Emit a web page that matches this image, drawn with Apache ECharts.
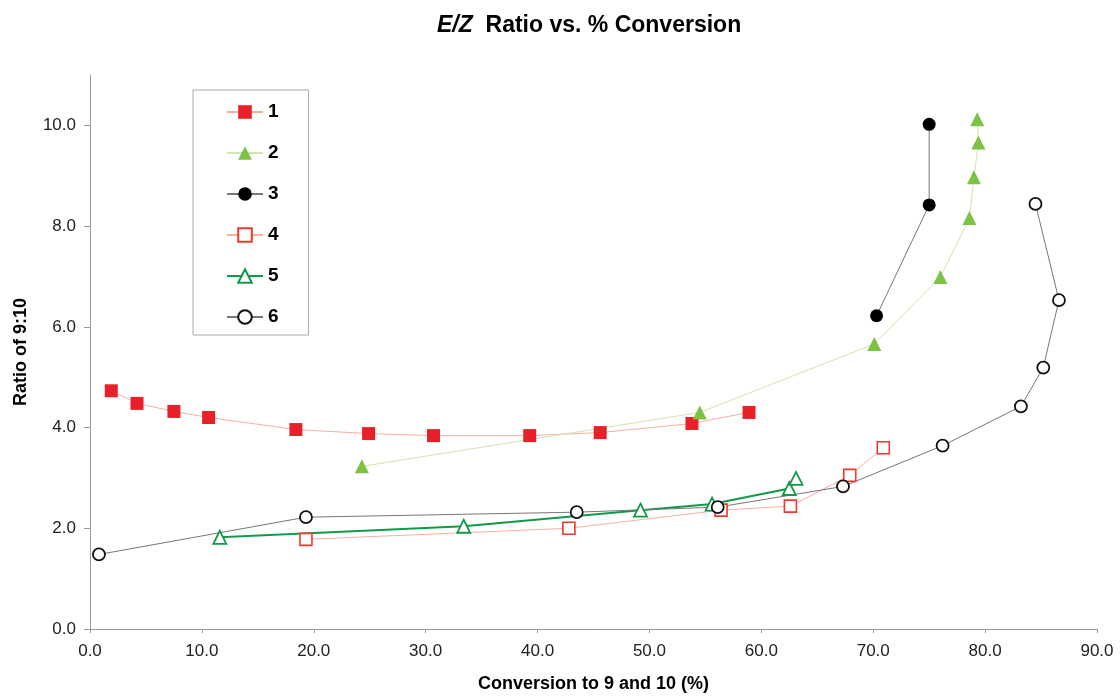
<!DOCTYPE html>
<html>
<head>
<meta charset="utf-8">
<script src="https://cdn.jsdelivr.net/npm/echarts@6/dist/echarts.min.js"></script>
<style>
html,body{margin:0;padding:0;background:#fff;}
#chart{width:1120px;height:698px;}
</style>
</head>
<body>
<div id="chart"></div>
<script>
// ---- data ----
var seriesNames = ['1', '2', '3', '4', '5', '6'];
var xTicks = [0, 10, 20, 30, 40, 50, 60, 70, 80, 90];
var yTicks = [0, 2, 4, 6, 8, 10];

var s1X = [1.9, 4.2, 7.5, 10.6, 18.4, 24.9, 30.7, 39.3, 45.6, 53.8, 58.9];
var s1Y = [4.73, 4.48, 4.32, 4.20, 3.96, 3.88, 3.84, 3.84, 3.90, 4.08, 4.30];

var s2X = [24.3, 54.5, 70.1, 76.0, 78.6, 79.0, 79.4, 79.3];
var s2Y = [3.23, 4.30, 5.66, 6.99, 8.16, 8.97, 9.66, 10.12];

var s3X = [70.3, 75.0, 75.0];
var s3Y = [6.22, 8.42, 10.02];

var s4X = [19.3, 42.8, 56.4, 62.6, 67.9, 70.9];
var s4Y = [1.78, 2.00, 2.36, 2.44, 3.05, 3.60];

var s5X = [11.6, 33.4, 49.2, 55.6, 62.5, 63.1];
var s5Y = [1.82, 2.04, 2.36, 2.48, 2.79, 2.99];

var s6X = [0.8, 19.3, 43.5, 56.1, 67.3, 76.2, 83.2, 85.2, 86.6, 84.5];
var s6Y = [1.48, 2.22, 2.32, 2.42, 2.83, 3.64, 4.42, 5.19, 6.53, 8.44];

function pairs(xs, ys) { return xs.map(function (x, i) { return [x, ys[i]]; }); }

var FONT = '"Liberation Sans", Arial, sans-serif';

function mk(name, xs, ys, symbol, size, fill, stroke, bw, lineColor, lineWidth) {
  return {
    name: name,
    type: 'line',
    data: pairs(xs, ys),
    symbol: symbol,
    symbolSize: size,
    showAllSymbol: true,
    lineStyle: { color: lineColor, width: lineWidth },
    itemStyle: { color: fill, borderColor: stroke, borderWidth: bw },
    emphasis: { disabled: true },
    z: 2
  };
}

var chart = echarts.init(document.getElementById('chart'), null, { renderer: 'canvas' });
chart.setOption({
  animation: false,
  backgroundColor: '#fff',
  title: {
    text: '{i|E/Z}  Ratio vs. % Conversion',
    left: 432,
    top: 9,
    textStyle: {
      fontFamily: FONT, fontSize: 23, fontWeight: 'bold', color: '#000',
      rich: {
        i: { fontFamily: FONT, fontSize: 23, fontWeight: 'bold', fontStyle: 'italic', color: '#000' }
      }
    }
  },
  legend: {
    orient: 'vertical',
    left: 193,
    top: 90,
    data: seriesNames,
    itemWidth: 36,
    itemHeight: 17,
    itemGap: 21,
    padding: [12, 30, 8, 33],
    borderColor: '#aaa',
    borderWidth: 1,
    backgroundColor: '#fff',
    selectedMode: false,
    textStyle: { fontFamily: FONT, fontSize: 19, fontWeight: 'bold', color: '#000', lineHeight: 20 }
  },
  grid: { left: 90, right: 23, top: 75, bottom: 69 },
  xAxis: {
    type: 'value',
    min: 0, max: 90, interval: 10,
    name: 'Conversion to 9 and 10 (%)',
    nameLocation: 'middle',
    nameGap: 46,
    nameTextStyle: { fontFamily: FONT, fontSize: 18, fontWeight: 'bold', color: '#000' },
    axisLine: { show: true, lineStyle: { color: '#999', width: 1 } },
    axisTick: { show: true, length: 4, lineStyle: { color: '#999' }, customValues: xTicks },
    axisLabel: {
      customValues: xTicks,
      margin: 14,
      fontFamily: FONT, fontSize: 17, color: '#222',
      formatter: function (v) { return v.toFixed(1); }
    },
    splitLine: { show: false }
  },
  yAxis: {
    type: 'value',
    min: 0, max: 11, interval: 2,
    name: 'Ratio of 9:10',
    nameLocation: 'middle',
    nameGap: 60,
    nameTextStyle: { fontFamily: FONT, fontSize: 18, fontWeight: 'bold', color: '#000' },
    axisLine: { show: true, lineStyle: { color: '#999', width: 1 } },
    axisTick: { show: true, length: 6, lineStyle: { color: '#999' }, customValues: yTicks },
    axisLabel: {
      customValues: yTicks,
      margin: 14,
      fontFamily: FONT, fontSize: 17, color: '#222',
      formatter: function (v) { return v.toFixed(1); }
    },
    splitLine: { show: false }
  },
  series: [
    mk('1', s1X, s1Y, 'rect', 13, '#e8202a', '#e8202a', 0, '#f6b0a0', 1),
    mk('2', s2X, s2Y, 'triangle', 14, '#7cc243', '#7cc243', 0, '#cfe6b0', 1),
    mk('3', s3X, s3Y, 'circle', 13, '#000', '#000', 0, '#777', 1),
    mk('4', s4X, s4Y, 'rect', 12, '#fff', '#ee3a2f', 1.6, '#f6b0a0', 1),
    mk('5', s5X, s5Y, 'triangle', 13, '#fff', '#129a4a', 1.8, '#129a4a', 2),
    mk('6', s6X, s6Y, 'circle', 12, '#fff', '#111', 1.8, '#777', 1)
  ]
});
</script>
</body>
</html>
